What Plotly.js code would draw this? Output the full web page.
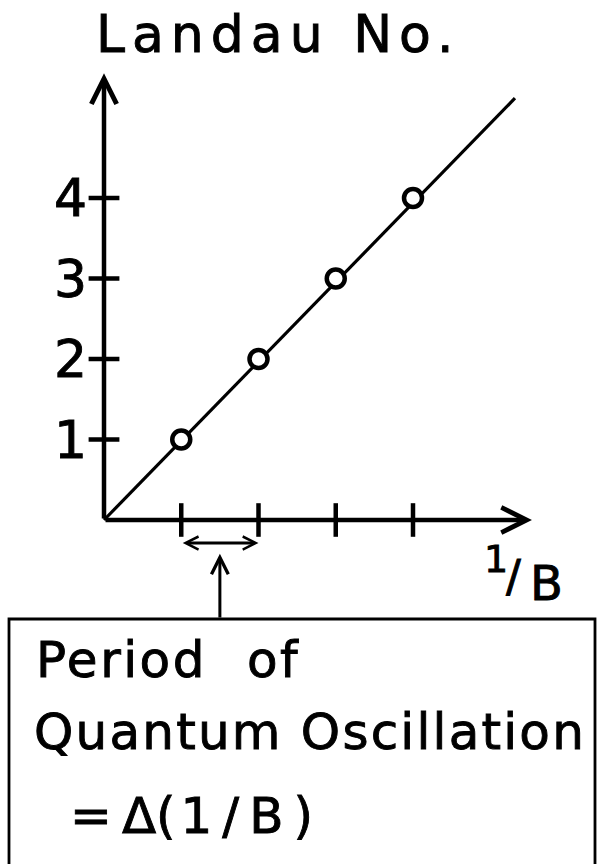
<!DOCTYPE html>
<html>
<head>
<meta charset="utf-8">
<script src="https://cdn.plot.ly/plotly-3.0.1.min.js"></script>
<style>
  html, body { margin: 0; padding: 0; background: #fff; }
  #chart { width: 601px; height: 864px; }
</style>
</head>
<body>
<div id="chart"></div>
<script>
// Landau level index n against the inverse field 1/B at which it is crossed
const levelIndex   = [1, 2, 3, 4];
const inverseField = [1, 2, 3, 4];
const tickLabels   = ['1', '2', '3', '4'];
// straight line through the origin and the crossings
const fitX = [0, 5.32];
const fitY = [0, 5.24];
// ends of the two axis arrows
const axisEndX = 5.54;
const axisEndY = 5.55;
// one oscillation period: between two neighbouring crossings
const periodSpan = [1, 2];

const ink = '#000';
const font = 'DejaVu Sans, sans-serif';

// scale: origin at (104, 520) px, 77.25 px per unit in x, 80.5 px per unit in y
const W = 601, H = 864;
const ox = 104, oy = 520, kx = 77.25, ky = 80.5;
const xRange = [-ox / kx, (W - ox) / kx];
const yRange = [-(H - oy) / ky, oy / ky];

const traces = [
  { // diagonal line
    x: fitX, y: fitY, mode: 'lines',
    line: { color: ink, width: 3.2 }, hoverinfo: 'skip'
  },
  { // x-axis ticks (crossing the axis)
    x: inverseField, y: inverseField.map(() => 0), mode: 'markers',
    marker: { symbol: 'line-ns', size: 24, color: ink, line: { color: ink, width: 4.5 } },
    hoverinfo: 'skip'
  },
  { // y-axis ticks
    x: levelIndex.map(() => 0), y: levelIndex, mode: 'markers',
    marker: { symbol: 'line-ew', size: 22, color: ink, line: { color: ink, width: 4.5 } },
    hoverinfo: 'skip'
  },
  { // crossings
    x: inverseField, y: levelIndex, mode: 'markers',
    marker: { symbol: 'circle', size: 18, color: '#fff', line: { color: ink, width: 4.5 } },
    hoverinfo: 'skip'
  }
];

const annotations = [];
const letterSpacing = {};   // annotation index -> extra spacing in px

// axis arrows
annotations.push({
  x: axisEndX, y: 0, ax: 0, ay: 0, xref: 'x', yref: 'y', axref: 'x', ayref: 'y',
  showarrow: true, arrowhead: 5, arrowsize: 1.1, arrowwidth: 4.5, arrowcolor: ink, text: ''
});
annotations.push({
  x: 0, y: axisEndY, ax: 0, ay: 0, xref: 'x', yref: 'y', axref: 'x', ayref: 'y',
  showarrow: true, arrowhead: 5, arrowsize: 1.1, arrowwidth: 4.5, arrowcolor: ink, text: ''
});

// double arrow marking one period
annotations.push({
  x: periodSpan[1], y: -0.286, ax: periodSpan[0], ay: -0.286,
  xref: 'x', yref: 'y', axref: 'x', ayref: 'y',
  showarrow: true, arrowside: 'end+start',
  arrowhead: 5, startarrowhead: 5, arrowsize: 0.85, startarrowsize: 0.85,
  arrowwidth: 3, arrowcolor: ink, text: ''
});

// pointer from the box up to the period
annotations.push({
  x: (periodSpan[0] + periodSpan[1]) / 2, y: -0.42,
  ax: (periodSpan[0] + periodSpan[1]) / 2, ay: -1.23,
  xref: 'x', yref: 'y', axref: 'x', ayref: 'y',
  showarrow: true, arrowhead: 5, arrowsize: 1.1, arrowwidth: 3, arrowcolor: ink, text: ''
});

// y tick labels
levelIndex.forEach((v, i) => {
  annotations.push({
    x: 0, y: v, xref: 'x', yref: 'y', xanchor: 'right', yanchor: 'middle',
    xshift: -15, showarrow: false, text: tickLabels[i],
    font: { family: font, size: 52, color: ink }
  });
});

// axis titles
letterSpacing[annotations.length] = 7;
annotations.push({
  x: 94 / W, y: 1 - 34 / H, xref: 'paper', yref: 'paper',
  xanchor: 'left', yanchor: 'middle', showarrow: false,
  text: 'Landau No.', font: { family: font, size: 52, color: ink }
});
annotations.push({
  x: 496 / W, y: 1 - 559 / H, xref: 'paper', yref: 'paper',
  xanchor: 'center', yanchor: 'middle', showarrow: false,
  text: '1', font: { family: font, size: 38, color: ink }
});
annotations.push({
  x: 513 / W, y: 1 - 576 / H, xref: 'paper', yref: 'paper',
  xanchor: 'center', yanchor: 'middle', showarrow: false,
  text: '/', font: { family: font, size: 44, color: ink }
});
annotations.push({
  x: 546 / W, y: 1 - 583 / H, xref: 'paper', yref: 'paper',
  xanchor: 'center', yanchor: 'middle', showarrow: false,
  text: 'B', font: { family: font, size: 48, color: ink }
});

// caption box text
const boxLines = [
  { text: 'Period\u2002\u2009of', x: 34, y: 660, spacing: 2.5 },
  { text: 'Quantum Oscillation', x: 32, y: 732, spacing: 2.2 },
  { text: '=\u2009\u0394(\u200A1\u2009/\u2009B\u2009)', x: 68, y: 816, spacing: 0 }
];
boxLines.forEach(l => {
  letterSpacing[annotations.length] = l.spacing;
  annotations.push({
    x: l.x / W, y: 1 - l.y / H, xref: 'paper', yref: 'paper',
    xanchor: 'left', yanchor: 'middle', showarrow: false,
    text: l.text, font: { family: font, size: 50, color: ink }
  });
});

const layout = {
  width: W, height: H,
  margin: { l: 0, r: 0, t: 0, b: 0 },
  paper_bgcolor: '#fff', plot_bgcolor: '#fff',
  showlegend: false,
  xaxis: { range: xRange, visible: false, fixedrange: true },
  yaxis: { range: yRange, visible: false, fixedrange: true },
  shapes: [{
    type: 'rect', xref: 'paper', yref: 'paper',
    x0: 9 / W, x1: 595 / W, y0: -0.05, y1: 1 - 619 / H,
    line: { color: ink, width: 2.8 }, fillcolor: 'rgba(0,0,0,0)'
  }],
  annotations: annotations
};

Plotly.newPlot('chart', traces, layout, { displayModeBar: false, staticPlot: true })
  .then(gd => {
    // heavier lettering, and wider tracking on the titles (left edge kept in place)
    gd.querySelectorAll('g.annotation').forEach(g => {
      const t = g.querySelector('text.annotation-text');
      if (!t) return;
      t.style.stroke = ink;
      t.style.strokeWidth = '0.9px';
      const idx = Number(g.getAttribute('data-index'));
      if (letterSpacing[idx]) {
        const left0 = t.getBBox().x;
        t.style.letterSpacing = letterSpacing[idx] + 'px';
        const left1 = t.getBBox().x;
        const dx = left0 - left1;
        const nodes = [t].concat(Array.from(t.querySelectorAll('tspan[x]')));
        nodes.forEach(n => {
          if (n.hasAttribute('x')) n.setAttribute('x', Number(n.getAttribute('x')) + dx);
        });
      }
    });
  });
</script>
</body>
</html>
